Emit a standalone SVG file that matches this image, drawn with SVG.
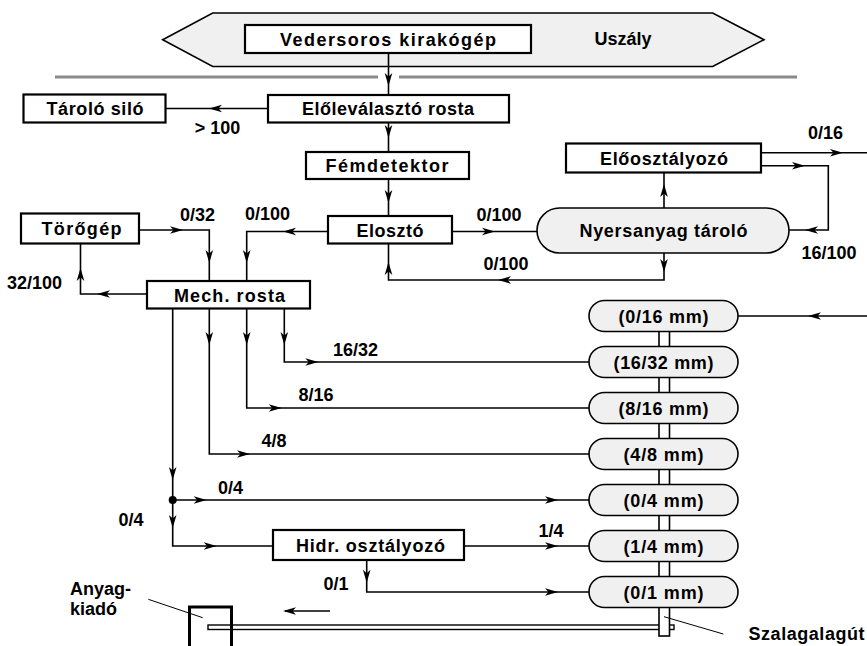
<svg xmlns="http://www.w3.org/2000/svg" xmlns:xlink="http://www.w3.org/1999/xlink" width="867" height="646" viewBox="0 0 867 646">
<style>
  text { font-family: "Liberation Sans", Arial, sans-serif; font-weight: bold; font-size: 18px; fill: #000; }
  .box { fill: #fff; stroke: #000; stroke-width: 2.2; }
  .pill { fill: #f0f0f0; stroke: #000; stroke-width: 1.6; }
  .ban { fill: #f0f0f0; stroke: #000; stroke-width: 1.6; }
  .c { fill: none; stroke: #000; stroke-width: 1.6; }
  .thin { fill: none; stroke: #000; stroke-width: 1; }
  .gray { stroke: #8a8a8a; stroke-width: 3; }
  .m { text-anchor: middle; }
</style>
<defs>
  <path id="ah" d="M0,0 L-13,-3.8 L-9.5,0 L-13,3.8 Z" fill="#000"/>
</defs>
<rect width="867" height="646" fill="#fff"/>

<!-- banner -->
<g id="uszaly">
  <polygon class="ban" points="162.7,39.7 212.7,13 712.7,13 764,39.7 712.7,66.5 212.7,66.5"/>
  <text x="623" y="45" class="m">Uszály</text>
</g>
<g id="vedersoros">
  <rect class="box" x="245" y="25" width="286" height="28"/>
  <text x="388" y="45.5" class="m" textLength="216" lengthAdjust="spacing">Vedersoros kirakógép</text>
</g>
<g id="partvonal">
  <line class="gray" x1="55" y1="77" x2="378" y2="77"/>
  <line class="gray" x1="399" y1="77" x2="797" y2="77"/>
</g>

<!-- connectors -->
<g id="connectors">
  <path class="c" d="M388.5,53 V95"/>
  <path class="c" d="M268,108.5 H166"/>
  <path class="c" d="M388.5,122.5 V152"/>
  <path class="c" d="M388.5,179 V216"/>
  <path class="c" d="M328,231.5 H246.7 V281"/>
  <path class="c" d="M139,230 H209.3 V281"/>
  <path class="c" d="M147,294 H80.5 V243.5"/>
  <path class="c" d="M452,231.5 H537"/>
  <path class="c" d="M664,253 V280 H388.5 V243.5"/>
  <path class="c" d="M664,208 V172.5"/>
  <path class="c" d="M761,152.7 H867"/>
  <path class="c" d="M761,165.7 H828.3 V230 H789"/>
  <path class="c" d="M867,316 H738"/>
  <path class="c" d="M284.3,308.5 V362 H589"/>
  <path class="c" d="M246.7,308.5 V408 H589"/>
  <path class="c" d="M209.3,308.5 V454 H589"/>
  <path class="c" d="M172.7,308.5 V500 H589"/>
  <path class="c" d="M172.7,500 V546 H273"/>
  <path class="c" d="M464,546 H589"/>
  <path class="c" d="M366.7,560 V592 H589"/>
  <path class="c" d="M330,611 H285"/>
  <circle cx="172.7" cy="500" r="4" fill="#000"/>

  <use xlink:href="#ah" transform="translate(388.5,86) rotate(90)"/>
  <use xlink:href="#ah" transform="translate(209,108.5) rotate(180)"/>
  <use xlink:href="#ah" transform="translate(388.5,138) rotate(90)"/>
  <use xlink:href="#ah" transform="translate(388.5,203) rotate(90)"/>
  <use xlink:href="#ah" transform="translate(283,231.5) rotate(180)"/>
  <use xlink:href="#ah" transform="translate(246.7,263) rotate(90)"/>
  <use xlink:href="#ah" transform="translate(183,230)"/>
  <use xlink:href="#ah" transform="translate(209.3,263) rotate(90)"/>
  <use xlink:href="#ah" transform="translate(97,294) rotate(180)"/>
  <use xlink:href="#ah" transform="translate(80.5,268) rotate(-90)"/>
  <use xlink:href="#ah" transform="translate(495,231.5)"/>
  <use xlink:href="#ah" transform="translate(664,272) rotate(90)"/>
  <use xlink:href="#ah" transform="translate(498,280) rotate(180)"/>
  <use xlink:href="#ah" transform="translate(388.5,262) rotate(-90)"/>
  <use xlink:href="#ah" transform="translate(664,184) rotate(-90)"/>
  <use xlink:href="#ah" transform="translate(843,152.7)"/>
  <use xlink:href="#ah" transform="translate(805,165.7)"/>
  <use xlink:href="#ah" transform="translate(805,230) rotate(180)"/>
  <use xlink:href="#ah" transform="translate(808,316) rotate(180)"/>
  <use xlink:href="#ah" transform="translate(284.3,345) rotate(90)"/>
  <use xlink:href="#ah" transform="translate(246.7,345) rotate(90)"/>
  <use xlink:href="#ah" transform="translate(209.3,345) rotate(90)"/>
  <use xlink:href="#ah" transform="translate(172.7,480) rotate(90)"/>
  <use xlink:href="#ah" transform="translate(318.3,362)"/>
  <use xlink:href="#ah" transform="translate(281.7,408)"/>
  <use xlink:href="#ah" transform="translate(250,454)"/>
  <use xlink:href="#ah" transform="translate(206.7,500)"/>
  <use xlink:href="#ah" transform="translate(558,500)"/>
  <use xlink:href="#ah" transform="translate(172.7,528) rotate(90)"/>
  <use xlink:href="#ah" transform="translate(216.7,546)"/>
  <use xlink:href="#ah" transform="translate(558,546)"/>
  <use xlink:href="#ah" transform="translate(366.7,582.7) rotate(90)"/>
  <use xlink:href="#ah" transform="translate(558,592)"/>
  <use xlink:href="#ah" transform="translate(283,611) rotate(180)"/>

  <text x="217.5" y="134" class="m">&gt; 100</text>
  <text x="197.5" y="221" class="m">0/32</text>
  <text x="267.5" y="220" class="m">0/100</text>
  <text x="34.5" y="289" class="m">32/100</text>
  <text x="499" y="220.5" class="m">0/100</text>
  <text x="506" y="269.5" class="m">0/100</text>
  <text x="825.5" y="139" class="m">0/16</text>
  <text x="829" y="259" class="m">16/100</text>
  <text x="355.5" y="356" class="m">16/32</text>
  <text x="316" y="401" class="m">8/16</text>
  <text x="274" y="446.5" class="m">4/8</text>
  <text x="230.5" y="493.5" class="m">0/4</text>
  <text x="131" y="526" class="m">0/4</text>
  <text x="551" y="536.5" class="m">1/4</text>
  <text x="336" y="590" class="m">0/1</text>
</g>

<!-- nodes -->
<g id="elolevalaszto">
  <rect class="box" x="268" y="95" width="241" height="27.5"/>
  <text x="388" y="115" class="m" textLength="172" lengthAdjust="spacing">Előleválasztó rosta</text>
</g>
<g id="tarolo-silo">
  <rect class="box" x="23.5" y="94.5" width="142" height="28"/>
  <text x="95" y="115" class="m" textLength="97" lengthAdjust="spacing">Tároló siló</text>
</g>
<g id="femdetektor">
  <rect class="box" x="306" y="152" width="163" height="27"/>
  <text x="387" y="172" class="m" textLength="123" lengthAdjust="spacing">Fémdetektor</text>
</g>
<g id="eloszto">
  <rect class="box" x="328" y="216" width="124" height="27.5"/>
  <text x="390" y="236.5" class="m" textLength="67" lengthAdjust="spacing">Elosztó</text>
</g>
<g id="torogep">
  <rect class="box" x="21" y="213.5" width="118" height="30"/>
  <text x="81.5" y="235" class="m" textLength="80" lengthAdjust="spacing">Törőgép</text>
</g>
<g id="mech-rosta">
  <rect class="box" x="147" y="281" width="163" height="27.5"/>
  <text x="229.5" y="301.5" class="m" textLength="111" lengthAdjust="spacing">Mech. rosta</text>
</g>
<g id="nyersanyag">
  <rect class="pill" x="537" y="208" width="252" height="45" rx="22.5" ry="22.5"/>
  <text x="663.5" y="237" class="m" textLength="168" lengthAdjust="spacing">Nyersanyag tároló</text>
</g>
<g id="eloosztalyozo">
  <rect class="box" x="566" y="143.5" width="195" height="29"/>
  <text x="664" y="164.5" class="m" textLength="128" lengthAdjust="spacing">Előosztályozó</text>
</g>
<g id="hidr">
  <rect class="box" x="273" y="530" width="191" height="30"/>
  <text x="370.5" y="551.5" class="m" textLength="149" lengthAdjust="spacing">Hidr. osztályozó</text>
</g>

<!-- belt, tunnel and discharge -->
<g id="szalag">
  <rect x="208" y="625" width="466" height="4.5" fill="#fff" stroke="#000" stroke-width="1.4"/>
  <rect x="659" y="316" width="10.5" height="320" fill="#fff" stroke="#000" stroke-width="1.6"/>
</g>
<g id="anyagkiado">
  <rect x="189.5" y="607" width="42" height="60" fill="none" stroke="#000" stroke-width="3"/>
  <line class="thin" x1="148.3" y1="599.3" x2="202.7" y2="617.7"/>
  <text x="70" y="595">Anyag-</text>
  <text x="70" y="614.5">kiadó</text>
</g>
<g id="szalagalagut">
  <line class="thin" x1="664" y1="616.7" x2="723.3" y2="634"/>
  <text x="748.5" y="640" textLength="116" lengthAdjust="spacing">Szalagalagút</text>
</g>

<g id="pill-0-16">
  <rect class="pill" x="589" y="300.5" width="149" height="31" rx="15.5" ry="15.5"/>
  <text x="663.5" y="323" class="m" textLength="90" lengthAdjust="spacing">(0/16 mm)</text>
</g>
<g id="pill-16-32">
  <rect class="pill" x="589" y="346.5" width="149" height="31" rx="15.5" ry="15.5"/>
  <text x="663.5" y="369" class="m" textLength="100" lengthAdjust="spacing">(16/32 mm)</text>
</g>
<g id="pill-8-16">
  <rect class="pill" x="589" y="392.5" width="149" height="31" rx="15.5" ry="15.5"/>
  <text x="663.5" y="415" class="m" textLength="90" lengthAdjust="spacing">(8/16 mm)</text>
</g>
<g id="pill-4-8">
  <rect class="pill" x="589" y="438.5" width="149" height="31" rx="15.5" ry="15.5"/>
  <text x="663.5" y="461" class="m" textLength="80" lengthAdjust="spacing">(4/8 mm)</text>
</g>
<g id="pill-0-4">
  <rect class="pill" x="589" y="484.5" width="149" height="31" rx="15.5" ry="15.5"/>
  <text x="663.5" y="507" class="m" textLength="80" lengthAdjust="spacing">(0/4 mm)</text>
</g>
<g id="pill-1-4">
  <rect class="pill" x="589" y="530.5" width="149" height="31" rx="15.5" ry="15.5"/>
  <text x="663.5" y="553" class="m" textLength="80" lengthAdjust="spacing">(1/4 mm)</text>
</g>
<g id="pill-0-1">
  <rect class="pill" x="589" y="576.5" width="149" height="31" rx="15.5" ry="15.5"/>
  <text x="663.5" y="599" class="m" textLength="80" lengthAdjust="spacing">(0/1 mm)</text>
</g>
</svg>
